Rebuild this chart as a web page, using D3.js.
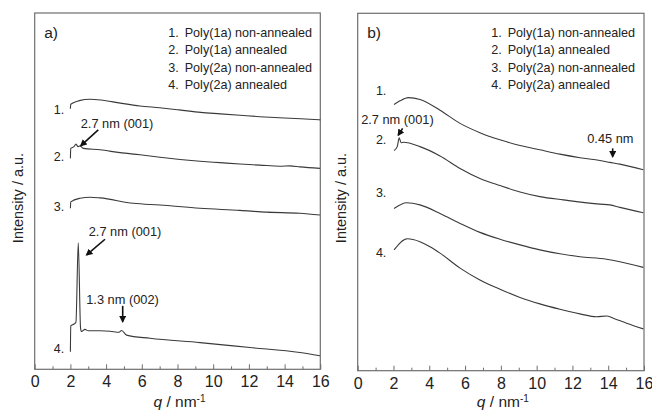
<!DOCTYPE html>
<html>
<head>
<meta charset="utf-8">
<script src="https://cdn.jsdelivr.net/npm/d3@7"></script>
<style>
  body { margin: 0; background: #fff; }
  text { font-family: "Liberation Sans", Arial, sans-serif; fill: #222; }
</style>
</head>
<body>
<svg id="chart" width="652" height="410"></svg>
<script>
// series names (legend)
const legendLabels = ['Poly(1a) non-annealed', 'Poly(1a) annealed', 'Poly(2a) non-annealed', 'Poly(2a) annealed']
const curveLabels = ['1.', '2.', '3.', '4.']
const xTicks = [0, 2, 4, 6, 8, 10, 12, 14, 16]
const xMinorTicks = [1, 3, 5, 7, 9, 11, 13, 15]

// panel a) [q, intensity a.u.]
const a1 = [[2.0,73.1],[2.02,74.4],[2.5,75.4],[3.1,75.8],[3.7,75.6],[4.8,74.7],[5.9,73.9],[7.0,73.4],[8.1,72.8],[9.3,72.1],[10.4,71.7],[11.5,71.3],[12.6,70.9],[13.7,70.6],[14.9,70.3],[16.0,70.0]]
const a2 = [[2.0,59.2],[2.02,62.0],[2.2,62.5],[2.31,63.2],[2.43,62.5],[2.54,62.7],[2.72,62.0],[3.66,61.6],[4.78,60.8],[5.9,60.2],[7.02,59.5],[8.14,58.9],[9.26,58.4],[10.38,58.0],[11.5,57.6],[12.62,57.3],[13.74,57.0],[14.3,57.1],[14.86,56.8],[15.98,56.4]]
const a3 = [[2.0,45.2],[2.02,47.0],[2.54,48.0],[3.1,48.3],[3.66,48.1],[5.52,46.6],[7.02,46.1],[9.26,45.2],[11.5,44.6],[13.0,44.1],[14.86,43.8],[15.98,43.3]]
const a4 = [[2.0,4.9],[2.02,12.2],[2.2,12.7],[2.31,13.2],[2.44,35.5],[2.57,11.5],[2.62,10.6],[2.82,11.2],[3.0,10.8],[3.66,10.8],[4.22,10.7],[4.72,10.4],[4.87,10.9],[5.15,9.6],[6.46,8.7],[9.26,7.5],[12.06,6.1],[14.86,4.7],[15.98,3.8]]

// panel b)
const b1 = [[2.03,74.5],[2.36,75.5],[2.83,76.4],[3.48,75.9],[4.6,72.9],[5.72,69.2],[6.83,66.6],[7.95,64.6],[9.07,63.0],[10.18,61.8],[11.3,60.6],[12.42,59.6],[13.54,58.8],[14.09,58.3],[14.65,57.8],[15.96,56.2]]
const b2 = [[2.03,61.6],[2.21,62.7],[2.32,65.2],[2.42,63.8],[2.55,63.9],[3.48,62.7],[4.6,60.1],[5.72,56.6],[6.83,53.8],[7.95,51.8],[9.07,50.0],[10.18,48.7],[11.49,47.8],[13.54,46.6],[14.09,46.4],[14.65,45.7],[15.96,44.2]]
const b3 = [[2.03,45.4],[2.74,47.0],[3.48,46.4],[4.6,44.0],[5.72,41.2],[6.83,38.7],[7.95,36.8],[9.07,35.2],[10.18,33.8],[11.3,32.7],[12.42,31.9],[13.91,31.2],[14.65,30.5],[15.96,28.9]]
const b4 = [[2.03,33.8],[2.77,36.9],[3.48,36.1],[4.04,34.7],[4.6,32.9],[5.72,28.7],[6.83,25.4],[7.95,22.8],[9.07,20.5],[10.18,18.7],[11.3,17.2],[12.42,15.9],[13.35,15.1],[13.91,15.3],[14.28,14.7],[15.03,13.3],[15.96,11.7]]

const panels = [
    {
        tag: 'a)', left: 34.7, right: 320.3, top: 13, bottom: 369.3, yTitleX: 18,
        series: [a1, a2, a3, a4],
        // curve number labels [q, I]
        numPos: [[1.65, 73.0], [1.65, 59.8], [1.65, 45.6], [1.65, 5.9]],
        notes: [
            { text: '2.7 nm (001)', at: [4.61, 69.0], from: [3.56, 67.2], to: [2.59, 62.8] },
            { text: '2.7 nm (001)', at: [5.06, 38.6], from: [3.94, 36.5], to: [2.91, 32.1] },
            { text: '1.3 nm (002)', at: [4.92, 19.7], from: [4.93, 17.8], to: [4.93, 13.4] }
        ]
    },
    {
        tag: 'b)', left: 357.7, right: 644, top: 13.3, bottom: 370.7, yTitleX: 341,
        series: [b1, b2, b3, b4],
        numPos: [[1.6, 78.3], [1.6, 64.6], [1.6, 50.0], [1.6, 33.2]],
        notes: [
            { text: '2.7 nm (001)', at: [2.22, 70.3], from: [2.51, 67.8], to: [2.27, 65.9] },
            { text: '0.45 nm', at: [14.12, 65.0], from: [14.25, 62.2], to: [14.25, 59.9] }
        ]
    }
]

const svg = d3.select('#chart')

svg.append('defs').append('marker')
    .attr('id', 'head')
    .attr('viewBox', '0 0 10 10')
    .attr('refX', 8).attr('refY', 5)
    .attr('markerUnits', 'userSpaceOnUse')
    .attr('markerWidth', 7).attr('markerHeight', 7)
    .attr('orient', 'auto')
    .append('path')
    .attr('d', 'M0,0 L10,5 L0,10 z')
    .attr('fill', '#111')

panels.forEach(p => {
    const x = d3.scaleLinear().domain([0, 16]).range([p.left, p.right])
    const y = d3.scaleLinear().domain([0, 100]).range([p.bottom, p.top])
    const g = svg.append('g')

    // frame
    g.append('rect')
        .attr('x', p.left).attr('y', p.top)
        .attr('width', p.right - p.left).attr('height', p.bottom - p.top)
        .attr('fill', 'none').attr('stroke', '#6e6e6e').attr('stroke-width', 1.2)

    // axis ticks (inward)
    const major = g.append('g')
        .attr('transform', `translate(0,${p.bottom})`)
        .call(d3.axisBottom(x).tickValues(xTicks).tickSizeInner(-5).tickSizeOuter(0).tickPadding(6.5).tickFormat(d3.format('d')))
    major.select('.domain').remove()
    major.selectAll('line').attr('stroke', '#6e6e6e')
    major.selectAll('text').style('font-size', '16px').attr('fill', '#222')

    const minor = g.append('g')
        .attr('transform', `translate(0,${p.bottom})`)
        .call(d3.axisBottom(x).tickValues(xMinorTicks).tickSizeInner(-3).tickSizeOuter(0).tickFormat(''))
    minor.select('.domain').remove()
    minor.selectAll('line').attr('stroke', '#6e6e6e')

    // axis titles
    const xt = g.append('text')
        .attr('x', (p.left + p.right) / 2 + 2).attr('y', 407)
        .attr('text-anchor', 'middle')
        .style('font-size', '15.5px')
    xt.append('tspan').style('font-style', 'italic').text('q')
    xt.append('tspan').text(' / nm')
    xt.append('tspan').attr('dy', -5.5).style('font-size', '10px').text('-1')

    g.append('text')
        .attr('transform', `translate(${p.yTitleX + 5},198) rotate(-90)`)
        .attr('text-anchor', 'middle')
        .style('font-size', '14.5px')
        .text('Intensity / a.u.')

    // panel tag
    g.append('text')
        .attr('x', p.left + 9.5).attr('y', 37.5)
        .style('font-size', '15.5px')
        .text(p.tag)

    // legend
    const lx = p.left + 133.5
    legendLabels.forEach((name, i) => {
        const t = g.append('text')
            .attr('y', 36.5 + i * 17.6)
            .style('font-size', '12.6px')
        t.append('tspan').attr('x', lx).text(curveLabels[i])
        t.append('tspan').attr('x', lx + 16.5).text(name)
    })

    // curves
    const line = d3.line()
        .x(d => x(d[0]))
        .y(d => y(d[1]))
        .curve(d3.curveMonotoneX)
    g.selectAll('path.curve')
        .data(p.series)
        .enter()
        .append('path')
        .attr('class', 'curve')
        .attr('d', line)
        .attr('fill', 'none')
        .attr('stroke', '#3a3a3a')
        .attr('stroke-width', 1.1)

    // curve numbers
    p.numPos.forEach((d, i) => {
        g.append('text')
            .attr('x', x(d[0])).attr('y', y(d[1]) + 4.5)
            .attr('text-anchor', 'end')
            .style('font-size', '12.5px')
            .text(curveLabels[i])
    })

    // annotations
    p.notes.forEach(n => {
        g.append('text')
            .attr('x', x(n.at[0])).attr('y', y(n.at[1]) + 4.5)
            .attr('text-anchor', 'middle')
            .style('font-size', '12.8px')
            .text(n.text)
        g.append('line')
            .attr('x1', x(n.from[0])).attr('y1', y(n.from[1]))
            .attr('x2', x(n.to[0])).attr('y2', y(n.to[1]))
            .attr('stroke', '#111').attr('stroke-width', 1.6)
            .attr('marker-end', 'url(#head)')
    })
})
</script>
</body>
</html>
